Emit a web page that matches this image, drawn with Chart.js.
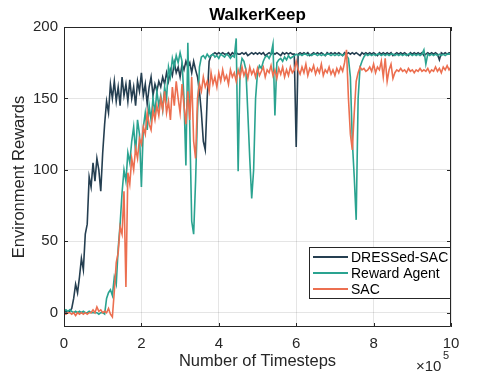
<!DOCTYPE html>
<html>
<head>
<meta charset="utf-8">
<script src="https://cdn.jsdelivr.net/npm/chart.js@4.4.1/dist/chart.umd.min.js"></script>
<style>
  body { margin: 0; background: #fff; }
  canvas { display: block; }
</style>
</head>
<body>
<canvas id="chart" width="498" height="374"></canvas>
<script>
// timesteps in units of 1e5, sampled every 5,000 steps
const timesteps = [];
for (let i = 0; i <= 200; i++) timesteps.push(i / 20);

const xTicks = [0, 2, 4, 6, 8, 10];
const yTicks = [0, 50, 100, 150, 200];
const chartTitle = 'WalkerKeep';

const dressedSac = [
    0, 1, 0, 1, 3, 10, 20, 14, 25, 38, 30, 55, 62, 95, 88, 105, 92, 108, 100, 85,
    112, 132, 148, 140, 160, 150, 162, 148, 158, 145, 165, 152, 160, 148, 163, 150, 158, 145, 162, 155,
    168, 152, 160, 146, 158, 165, 152, 160, 155, 162, 158, 165, 160, 168, 162, 170, 166, 175, 168, 172,
    165, 174, 170, 176, 172, 175, 168, 176, 170, 165, 155, 140, 120, 114, 150, 176, 180, 181, 182, 181,
    182, 181, 182, 181, 181, 182, 180, 182, 181, 182, 181, 181, 182, 181, 182, 180, 181, 182, 181, 182,
    181, 182, 181, 182, 180, 181, 182, 181, 182, 181, 182, 181, 180, 182, 181, 182, 181, 182, 181, 181,
    116, 181, 182, 181, 182, 181, 182, 180, 181, 182, 181, 182, 181, 182, 181, 180, 182, 181, 182, 181,
    182, 181, 182, 181, 180, 182, 181, 182, 181, 182, 181, 182, 181, 180, 182, 181, 182, 181, 182, 181,
    182, 181, 180, 182, 181, 182, 181, 182, 181, 182, 180, 181, 182, 181, 182, 181, 182, 181, 180, 182,
    181, 182, 181, 182, 181, 182, 180, 181, 182, 181, 182, 181, 182, 181, 177, 182, 181, 182, 181, 182,
    182
];

const rewardAgent = [
    1, 2, 1, 2, 1, 0, 1, 0, 1, 0, 1, 0, 0, 1, 0, 0, 0, 0, -1, 0,
    0, -1, 10, 14, 16, 12, 25, 20, 45, 62, 84, 100, 92, 112, 105, 120, 130, 112, 135, 125,
    88, 130, 140, 128, 145, 135, 150, 140, 155, 145, 152, 142, 158, 150, 172, 165, 178, 172, 180, 175,
    182, 176, 150, 103, 189, 130, 64, 55, 92, 140, 172, 179, 180, 178, 181, 179, 180, 181, 179, 180,
    178, 181, 180, 179, 181, 180, 178, 180, 179, 192, 99, 170, 178, 176, 170, 140, 108, 80, 100, 150,
    168, 173, 171, 176, 179, 180, 178, 181, 188, 138, 175, 177, 178, 176, 179, 177, 180, 178, 179, 180,
    181, 180, 181, 180, 181, 181, 180, 181, 180, 181, 181, 180, 181, 180, 181, 180, 181, 181, 180, 181,
    180, 181, 180, 181, 180, 181, 180, 178, 165, 120, 95, 65, 150, 172, 176, 179, 181, 180, 181, 180,
    181, 180, 181, 181, 180, 181, 180, 181, 180, 181, 181, 180, 181, 180, 181, 180, 181, 180, 181, 181,
    180, 181, 180, 181, 180, 181, 184, 174, 181, 180, 181, 180, 181, 180, 181, 180, 181, 180, 181, 181,
    181
];

const sac = [
    0, -1, 0, 0, -1, 0, -2, 0, -1, 0, -1, 0, -1, 0, 0, 2, 0, 4, 1, 2,
    0, 1, 0, 3, -1, -3, 15, 35, 42, 60, 55, 85, 18, 98, 90, 108, 100, 115, 108, 122,
    118, 130, 125, 140, 132, 128, 142, 135, 145, 138, 150, 142, 155, 140, 148, 135, 158, 145, 162, 150,
    140, 160, 145, 132, 155, 135, 165, 120, 108, 150, 160, 155, 165, 158, 162, 155, 168, 160, 165, 158,
    168, 162, 170, 163, 166, 160, 170, 165, 168, 162, 170, 165, 172, 166, 170, 164, 172, 167, 170, 165,
    171, 166, 169, 172, 165, 170, 168, 173, 166, 170, 164, 171, 167, 172, 165, 170, 166, 172, 168, 170,
    176, 170, 167, 172, 168, 174, 166, 171, 169, 173, 167, 171, 168, 174, 166, 170, 168, 172, 167, 170,
    166, 171, 168, 172, 169, 175, 184, 150, 125, 114, 140, 162, 168, 172, 170, 171, 169, 170, 172, 169,
    174, 168, 172, 170, 176, 165, 178, 162, 170, 174, 164, 168, 170, 169, 171, 169, 170, 168, 171, 169,
    170, 168, 170, 169, 171, 169, 170, 169, 171, 168, 170, 169, 172, 169, 171, 168, 172, 170, 173, 170,
    172
];

const axisColor = '#262626';
const gridColor = 'rgba(38, 38, 38, 0.12)';
const fontFamily = '"Liberation Sans", Arial, sans-serif';

function toPoints(values) {
    return values.map((v, i) => ({ x: timesteps[i], y: v }));
}

// box round the axes with inward ticks, the title over the axes and the x10^5 label
const framePlugin = {
    id: 'frame',
    afterDatasetsDraw(chart) {
        const { ctx, chartArea: a, scales } = chart;
        ctx.save();
        ctx.strokeStyle = axisColor;
        ctx.lineWidth = 1;
        ctx.beginPath();
        ctx.rect(a.left + 0.5, a.top + 0.5, a.right - a.left - 1, a.bottom - a.top - 1);
        const len = 4;
        xTicks.forEach(t => {
            const px = Math.round(scales.x.getPixelForValue(t)) + 0.5;
            ctx.moveTo(px, a.bottom); ctx.lineTo(px, a.bottom - len);
            ctx.moveTo(px, a.top); ctx.lineTo(px, a.top + len);
        });
        yTicks.forEach(t => {
            const py = Math.round(scales.y.getPixelForValue(t)) + 0.5;
            ctx.moveTo(a.left, py); ctx.lineTo(a.left + len, py);
            ctx.moveTo(a.right, py); ctx.lineTo(a.right - len, py);
        });
        ctx.stroke();

        ctx.fillStyle = '#000';
        ctx.textAlign = 'center';
        ctx.textBaseline = 'middle';
        ctx.font = 'bold 17px ' + fontFamily;
        ctx.fillText(chartTitle, (a.left + a.right) / 2, 15.5);

        ctx.fillStyle = axisColor;
        ctx.textBaseline = 'alphabetic';
        ctx.textAlign = 'left';
        ctx.font = '15px ' + fontFamily;
        ctx.fillText('\u00d710', 416, 371);
        ctx.font = '11px ' + fontFamily;
        ctx.fillText('5', 443, 359);
        ctx.restore();
    }
};

// legend box in the lower right corner of the axes
const legendPlugin = {
    id: 'boxLegend',
    afterDraw(chart) {
        const { ctx } = chart;
        ctx.save();
        ctx.fillStyle = '#fff';
        ctx.fillRect(309.5, 247.5, 141, 51);
        ctx.strokeStyle = axisColor;
        ctx.lineWidth = 1;
        ctx.strokeRect(309.5, 247.5, 141, 51);
        ctx.font = '14px ' + fontFamily;
        ctx.textBaseline = 'middle';
        ctx.textAlign = 'left';
        chart.data.datasets.forEach((ds, row) => {
            const y = 257 + row * 16;
            ctx.strokeStyle = ds.borderColor;
            ctx.lineWidth = 2;
            ctx.beginPath();
            ctx.moveTo(313, y);
            ctx.lineTo(348, y);
            ctx.stroke();
            ctx.fillStyle = '#000';
            ctx.fillText(ds.label, 351, y + 1);
        });
        ctx.restore();
    }
};

Chart.defaults.font.family = fontFamily;

new Chart(document.getElementById('chart'), {
    type: 'line',
    data: {
        datasets: [
            { label: 'DRESSed-SAC', data: toPoints(dressedSac), borderColor: '#253f51', order: 2 },
            { label: 'Reward Agent', data: toPoints(rewardAgent), borderColor: '#2aa390', order: 1 },
            { label: 'SAC', data: toPoints(sac), borderColor: '#ec6f50', order: 0 }
        ]
    },
    options: {
        responsive: false,
        animation: false,
        layout: { padding: { left: 0, right: 47, top: 27, bottom: 0 } },
        elements: {
            point: { radius: 0 },
            line: { borderWidth: 1.6, tension: 0 }
        },
        plugins: {
            legend: { display: false },
            tooltip: { enabled: false },
            title: { display: false }
        },
        scales: {
            x: {
                type: 'linear',
                min: 0,
                max: 10,
                afterBuildTicks: scale => { scale.ticks = xTicks.map(v => ({ value: v })); },
                afterFit: scale => { scale.height = 47; },
                grid: { color: gridColor, drawTicks: false },
                border: { display: false },
                ticks: { color: axisColor, font: { size: 15 }, padding: 8 },
                title: {
                    display: true,
                    text: 'Number of Timesteps',
                    color: axisColor,
                    font: { size: 16.5 },
                    padding: { top: 0, bottom: 3 }
                }
            },
            y: {
                min: -10,
                max: 200,
                afterBuildTicks: scale => { scale.ticks = yTicks.map(v => ({ value: v })); },
                afterFit: scale => { scale.width = 64; },
                grid: { color: gridColor, drawTicks: false },
                border: { display: false },
                ticks: { color: axisColor, font: { size: 15 }, padding: 6 },
                title: {
                    display: true,
                    text: 'Environment Rewards',
                    color: axisColor,
                    font: { size: 16.5 },
                    padding: { top: 10, bottom: 0 }
                }
            }
        }
    },
    plugins: [framePlugin, legendPlugin]
});
</script>
</body>
</html>
